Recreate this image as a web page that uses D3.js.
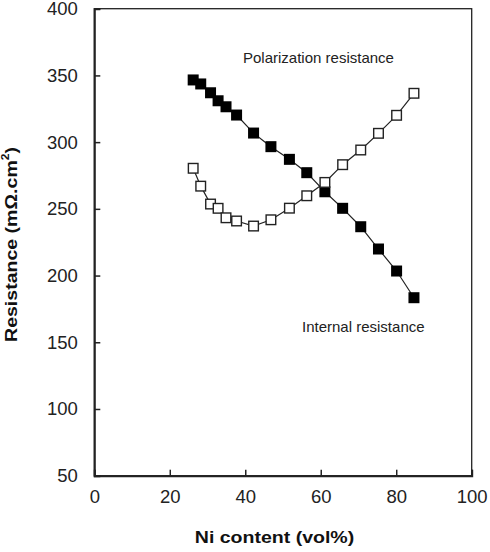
<!DOCTYPE html>
<html>
<head>
<meta charset="utf-8">
<script src="https://cdn.jsdelivr.net/npm/d3@7"></script>
<style>
  html, body { margin: 0; padding: 0; background: #fff; }
  svg { display: block; font-family: "Liberation Sans", Arial, sans-serif; }
</style>
</head>
<body>
<svg id="chart" width="490" height="552"></svg>
<script>
const niContent = [26.2, 28.2, 30.8, 32.8, 34.9, 37.7, 42.2, 46.8, 51.7, 56.3, 61.1, 65.8, 70.6, 75.3, 80.1, 84.7];
const polarization = [346.6, 343.6, 337, 331, 326.5, 320.3, 306.8, 296.6, 287.1, 277.1, 262.8, 250.4, 236.6, 219.9, 203.4, 183.4];
const internal = [280.4, 267, 253.6, 250.4, 243.3, 240.9, 237.1, 241.8, 250.5, 259.8, 269.8, 283.1, 294.1, 306.6, 320.1, 336.6];
const xTicks = [0, 20, 40, 60, 80, 100];
const yTicks = [50, 100, 150, 200, 250, 300, 350, 400];

(function () {
const svg = d3.select("#chart");
const pL = 94.3, pR = 471.7, pT = 8.7, pB = 475.7;
const x = d3.scaleLinear().domain([0, 100]).range([pL, pR]);
const y = d3.scaleLinear().domain([50, 400]).range([pB, pT]);

// frame
svg.append("rect").attr("x", pL).attr("y", pT).attr("width", pR - pL).attr("height", pB - pT)
  .attr("fill", "none").attr("stroke", "#222").attr("stroke-width", 1.3);

// x axis
const xAxis = svg.append("g").attr("transform", `translate(0,${pB})`)
  .call(d3.axisBottom(x).tickValues(xTicks).tickSize(-6).tickPadding(14).tickFormat(d3.format("d")));
xAxis.select(".domain").attr("stroke", "#222").attr("stroke-width", 2);
xAxis.selectAll(".tick line").attr("stroke", "#222").attr("stroke-width", 1.5);
xAxis.selectAll(".tick text").attr("font-size", 18.5).attr("fill", "#222").attr("font-family", "Liberation Sans, Arial, sans-serif").attr("dy", "0.71em");

// y axis
const yAxis = svg.append("g").attr("transform", `translate(${pL},0)`)
  .call(d3.axisLeft(y).tickValues(yTicks).tickSize(-6).tickPadding(16.5).tickFormat(d3.format("d")));
yAxis.select(".domain").attr("stroke", "#222").attr("stroke-width", 2);
yAxis.selectAll(".tick line").attr("stroke", "#222").attr("stroke-width", 1.5);
yAxis.selectAll(".tick text").attr("font-size", 18.5).attr("fill", "#222").attr("font-family", "Liberation Sans, Arial, sans-serif");

const line = d3.line().x(d => x(d[0])).y(d => y(d[1]));
const polData = niContent.map((v, i) => [v, polarization[i]]);
const intData = niContent.map((v, i) => [v, internal[i]]);
const ms = 11;

// polarization (filled)
svg.append("path").datum(polData).attr("d", line).attr("fill", "none").attr("stroke", "#222").attr("stroke-width", 1.2);
svg.append("g").selectAll("rect").data(polData).join("rect")
  .attr("x", d => x(d[0]) - ms / 2).attr("y", d => y(d[1]) - ms / 2)
  .attr("width", ms).attr("height", ms).attr("fill", "#000");

// internal (open)
svg.append("path").datum(intData).attr("d", line).attr("fill", "none").attr("stroke", "#222").attr("stroke-width", 1.2);
svg.append("g").selectAll("rect").data(intData).join("rect")
  .attr("x", d => x(d[0]) - (ms - 1.4) / 2).attr("y", d => y(d[1]) - (ms - 1.4) / 2)
  .attr("width", ms - 1.4).attr("height", ms - 1.4).attr("fill", "#fff").attr("stroke", "#222").attr("stroke-width", 1.4);

// annotations
svg.append("text").attr("x", 243).attr("y", 63).attr("font-size", 15).attr("fill", "#222")
  .text("Polarization resistance");
svg.append("text").attr("x", 302).attr("y", 332).attr("font-size", 15).attr("fill", "#222")
  .text("Internal resistance");

// axis titles
svg.append("text").attr("transform", "translate(274.5,543) scale(1.15,1)").attr("text-anchor", "middle")
  .attr("font-size", 17).attr("font-weight", "bold").attr("fill", "#111")
  .text("Ni content (vol%)");

const yt = svg.append("text").attr("transform", "translate(17,244.5) rotate(-90) scale(1.15,1)")
  .attr("text-anchor", "middle").attr("font-size", 17).attr("font-weight", "bold").attr("fill", "#111");
yt.append("tspan").text("Resistance (mΩ.cm");
yt.append("tspan").attr("font-size", 10.5).attr("dy", "-0.75em").text("2");
yt.append("tspan").attr("dy", "0.48em").text(")");
})();
</script>
</body>
</html>
